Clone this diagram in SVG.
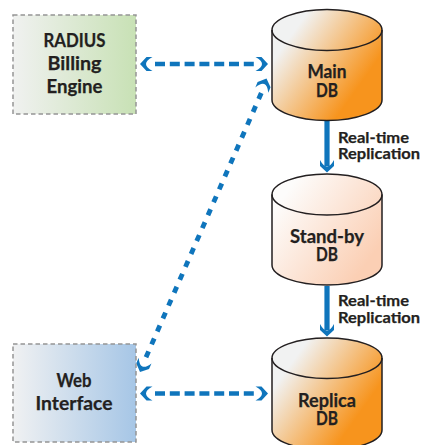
<svg xmlns="http://www.w3.org/2000/svg" xmlns:xlink="http://www.w3.org/1999/xlink" width="422" height="445" viewBox="0 0 422 445">
<style>
.box{stroke:#959595;stroke-width:1.5;stroke-dasharray:4.5 3}
.cyl{stroke:#231f20;stroke-width:1.5}
.t{font-family:Lato,"Noto Sans","Liberation Sans",sans-serif;font-weight:700;font-size:18.5px;fill:#231f20;stroke:#231f20;stroke-width:.25;text-anchor:middle}
.s{font-size:15.5px;text-anchor:start}
.dash{fill:none;stroke:#0f75bc;stroke-width:4.6;stroke-dasharray:10 4.8}
.diag{fill:none;stroke:#0f75bc;stroke-width:4.8;stroke-dasharray:6.5 7.59}
.solid{fill:none;stroke:#0f75bc;stroke-width:5.2}
.head{fill:#0f75bc}
</style>
<defs>
<linearGradient id="g1" x1="0" x2="1" y1="0" y2="0"><stop offset="0" stop-color="#f0f1f0"/><stop offset="1" stop-color="#c8e1b5"/></linearGradient>
<linearGradient id="g2" x1="0" x2="1" y1="0" y2="0"><stop offset="0" stop-color="#f0f1f2"/><stop offset="1" stop-color="#a6c6e6"/></linearGradient>
<linearGradient id="org1" gradientUnits="userSpaceOnUse" x1="295" y1="30" x2="364" y2="79"><stop offset="0" stop-color="#f1f2f2"/><stop offset="1" stop-color="#f7941d"/></linearGradient>
<linearGradient id="org2" gradientUnits="userSpaceOnUse" x1="295" y1="358" x2="364" y2="407"><stop offset="0" stop-color="#f1f2f2"/><stop offset="1" stop-color="#f7941d"/></linearGradient>
<linearGradient id="pch" gradientUnits="userSpaceOnUse" x1="285" y1="194" x2="372" y2="256"><stop offset="0" stop-color="#fdfcfb"/><stop offset="1" stop-color="#fbcfb4"/></linearGradient>
<path id="h" d="M0 0L6.500-7H12.500Q6 -3.500 6 0Q6 3.500 12.500 7H6.500Z"/>
</defs>
<g id="connectors">
<path class="dash" d="M155 64H258"/>
<path class="dash" d="M155 393.500H258"/>
<path class="diag" d="M146 357.300L261.300 93"/>
<path class="solid" d="M327 121V166"/>
<path class="solid" d="M327 286V330"/>
<use class="head" xlink:href="#h" href="#h" transform="translate(140 64)"/>
<use class="head" xlink:href="#h" href="#h" transform="translate(268 64) rotate(180)"/>
<use class="head" xlink:href="#h" href="#h" transform="translate(140 393.500)"/>
<use class="head" xlink:href="#h" href="#h" transform="translate(268 393.500) rotate(180)"/>
<use class="head" xlink:href="#h" href="#h" transform="translate(140 372) rotate(-66)"/>
<use class="head" xlink:href="#h" href="#h" transform="translate(266.500 78.500) rotate(112)"/>
<use class="head" xlink:href="#h" href="#h" transform="translate(327 172.500) rotate(-90)"/>
<use class="head" xlink:href="#h" href="#h" transform="translate(327 336.500) rotate(-90)"/>
</g>
<g id="radius">
<rect class="box" x="13" y="15" width="123" height="99" fill="url(#g1)"/>
<text class="t" x="74.500" y="47" textLength="62" lengthAdjust="spacingAndGlyphs">RADIUS</text>
<text class="t" x="74.500" y="70" textLength="54" lengthAdjust="spacingAndGlyphs">Billing</text>
<text class="t" x="74.500" y="92.500" textLength="56" lengthAdjust="spacingAndGlyphs">Engine</text>
</g>
<g id="web">
<rect class="box" x="13" y="344" width="123" height="98" fill="url(#g2)"/>
<text class="t" x="74" y="387" textLength="35" lengthAdjust="spacingAndGlyphs">Web</text>
<text class="t" x="74" y="410" textLength="77" lengthAdjust="spacingAndGlyphs">Interface</text>
</g>
<g id="main-db">
<path class="cyl" fill="url(#org1)" d="M272 30V100C272 111 297 120.500 327 120.500S382 111 382 100V30C382 19 357 9.500 327 9.500S272 19 272 30Z"/>
<path class="cyl" fill="none" d="M272 30C272 41 297 50.500 327 50.500S382 41 382 30"/>
<text class="t" x="327" y="77.500" textLength="39" lengthAdjust="spacingAndGlyphs">Main</text>
<text class="t" x="327" y="97" textLength="22" lengthAdjust="spacingAndGlyphs">DB</text>
</g>
<g id="standby-db">
<path class="cyl" fill="url(#pch)" d="M272 194.500V265C272 276 297 285 327 285S382 276 382 265V194.500C382 183.500 357 174 327 174S272 183.500 272 194.500Z"/>
<path class="cyl" fill="none" d="M272 194.500C272 205.500 297 215 327 215S382 205.500 382 194.500"/>
<text class="t" x="327" y="242.500" textLength="74" lengthAdjust="spacingAndGlyphs">Stand-by</text>
<text class="t" x="327" y="261" textLength="22" lengthAdjust="spacingAndGlyphs">DB</text>
</g>
<g id="replica-db">
<path class="cyl" fill="url(#org2)" d="M272 358V430C272 441 297 450 327 450S382 441 382 430V358C382 347 357 338 327 338S272 347 272 358Z"/>
<path class="cyl" fill="none" d="M272 358C272 369 297 378.500 327 378.500S382 369 382 358"/>
<text class="t" x="327" y="407" textLength="58" lengthAdjust="spacingAndGlyphs">Replica</text>
<text class="t" x="327" y="424.500" textLength="22" lengthAdjust="spacingAndGlyphs">DB</text>
</g>
<g id="labels">
<text class="t s" x="338" y="142.500" textLength="71" lengthAdjust="spacingAndGlyphs">Real-time</text>
<text class="t s" x="338" y="158.500" textLength="82" lengthAdjust="spacingAndGlyphs">Replication</text>
<text class="t s" x="338" y="306" textLength="71" lengthAdjust="spacingAndGlyphs">Real-time</text>
<text class="t s" x="338" y="323" textLength="82" lengthAdjust="spacingAndGlyphs">Replication</text>
</g>
</svg>
